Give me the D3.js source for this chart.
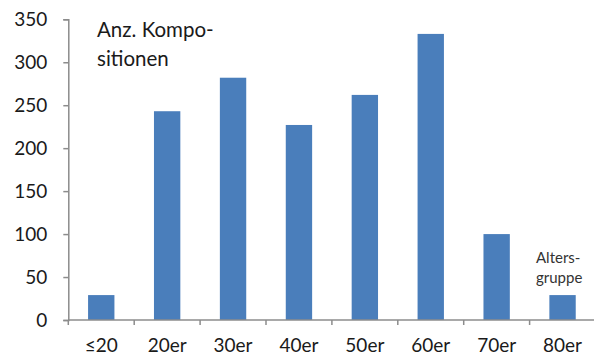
<!DOCTYPE html>
<html>
<head>
<meta charset="utf-8">
<script src="https://cdn.jsdelivr.net/npm/d3@7"></script>
<style>
  html, body { margin: 0; padding: 0; background: #fff; }
  svg { display: block; font-family: Lato, "Open Sans", sans-serif; }
</style>
</head>
<body>
<svg id="chart" width="594" height="358"></svg>
<script>
// Age groups and number of compositions per group
const ageGroups = ["≤20", "20er", "30er", "40er", "50er", "60er", "70er", "80er"];
const compositions = [29, 243, 282, 227, 262, 333, 100, 29];
const yTicks = [0, 50, 100, 150, 200, 250, 300, 350];
const yTitleLines = ["Anz. Kompo-", "sitionen"];
const xTitleLines = ["Alters-", "gruppe"];

const svg = d3.select("#chart");
const plotLeft = 68.3, plotRight = 595.5, plotTop = 19.3, plotBottom = 320;

const x = d3.scaleBand()
  .domain(ageGroups)
  .range([plotLeft, plotRight])
  .paddingInner(0.6)
  .paddingOuter(0.3);

// band step used for the category separator ticks
const step = (plotRight - plotLeft) / ageGroups.length;

const y = d3.scaleLinear().domain([0, 350]).range([plotBottom, plotTop]);

const axisColor = "#8c8c8c";
const textColor = "#1a1a1a";

// bars
svg.append("g")
  .selectAll("rect")
  .data(ageGroups)
  .join("rect")
  .attr("x", d => x(d))
  .attr("width", x.bandwidth())
  .attr("y", (d, i) => y(compositions[i]))
  .attr("height", (d, i) => y(0) - y(compositions[i]))
  .attr("fill", "#4a7ebb");

// y axis
const yAxis = svg.append("g")
  .attr("transform", `translate(${plotLeft},0)`)
  .call(d3.axisLeft(y).tickValues(yTicks).tickSize(5).tickPadding(16));
yAxis.select(".domain").attr("stroke", axisColor).attr("stroke-width", 1.5);
yAxis.selectAll(".tick line").attr("stroke", axisColor).attr("stroke-width", 1.5);
yAxis.selectAll(".tick text")
  .attr("fill", textColor)
  .style("font-size", "19px")
  .style("font-family", "Lato, sans-serif");

// x axis: line with ticks between categories
const xAxis = svg.append("g").attr("transform", `translate(0,${plotBottom})`);
xAxis.append("line")
  .attr("x1", plotLeft).attr("x2", plotRight)
  .attr("stroke", axisColor).attr("stroke-width", 1.5);
xAxis.selectAll("line.sep")
  .data(d3.range(ageGroups.length + 1))
  .join("line")
  .attr("class", "sep")
  .attr("x1", i => plotLeft + i * step).attr("x2", i => plotLeft + i * step)
  .attr("y1", 0).attr("y2", 5)
  .attr("stroke", axisColor).attr("stroke-width", 1.5);
xAxis.selectAll("text")
  .data(ageGroups)
  .join("text")
  .attr("x", d => x(d) + x.bandwidth() / 2)
  .attr("y", 32)
  .attr("text-anchor", "middle")
  .attr("fill", textColor)
  .style("font-size", "19px")
  .text(d => d);

// value axis caption
svg.append("text")
  .attr("fill", textColor)
  .style("font-size", "20.5px")
  .selectAll("tspan")
  .data(yTitleLines)
  .join("tspan")
  .attr("x", 97)
  .attr("y", (d, i) => 37 + i * 29)
  .text(d => d);

// category axis caption
svg.append("text")
  .attr("fill", "#333")
  .style("font-size", "15px")
  .selectAll("tspan")
  .data(xTitleLines)
  .join("tspan")
  .attr("x", 536)
  .attr("y", (d, i) => 263 + i * 20)
  .text(d => d);
</script>
</body>
</html>
